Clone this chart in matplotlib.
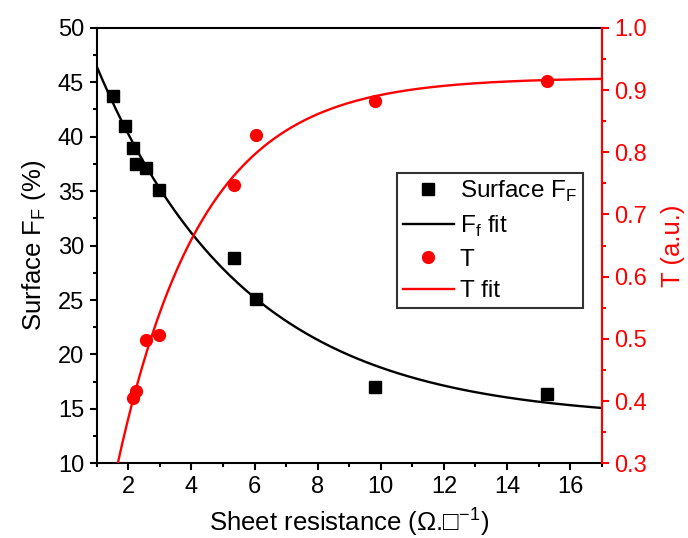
import numpy as np
import matplotlib
matplotlib.use("Agg")
import matplotlib.pyplot as plt
from matplotlib.ticker import MultipleLocator, FormatStrFormatter

plt.rcParams['font.family'] = ['Liberation Sans', 'DejaVu Sans']
plt.rcParams['mathtext.fontset'] = 'custom'
plt.rcParams['mathtext.rm'] = 'Liberation Sans'

# Data
rs_ff = [1.53, 1.90, 2.15, 2.25, 2.56, 2.96, 5.35, 6.05, 9.83, 15.26]
surface_ff = [43.7, 41.0, 39.0, 37.5, 37.1, 35.1, 28.9, 25.1, 17.0, 16.4]

rs_t = [2.14, 2.25, 2.56, 2.96, 5.35, 6.05, 9.83, 15.26]
trans = [0.405, 0.416, 0.498, 0.506, 0.748, 0.828, 0.883, 0.915]

# Exponential fit parameters (estimated from the plotted fit curves)
ff_y0, ff_a, ff_t = 14.0, 40.13, 4.708     # F = y0 + A*exp(-x/t)
t_y0, t_a, t_t = 0.92, 1.153, 2.687        # T = y0 - A*exp(-x/t)

fig = plt.figure(figsize=(6.88, 5.38), dpi=100)
ax = fig.add_axes([0.1406, 0.1388, 0.7340, 0.8095])
ax2 = ax.twinx()

xf = np.linspace(1, 17, 400)
l1, = ax.plot(rs_ff, surface_ff, 's', color='black', markersize=8, linestyle='none',
              label='Surface F$_\\mathregular{F}$')
l2, = ax.plot(xf, ff_y0 + ff_a * np.exp(-xf / ff_t), '-', color='black', lw=1.7,
              label='F$_\\mathregular{f}$ fit')
l3, = ax2.plot(rs_t, trans, 'o', color='red', markersize=8.5, linestyle='none', label='T')
l4, = ax2.plot(xf, t_y0 - t_a * np.exp(-xf / t_t), '-', color='red', lw=1.7, label='T fit')

ax.set_xlim(1, 17)
ax.set_ylim(10, 50)
ax2.set_ylim(0.3, 1.0)

fs = 17
ax.xaxis.set_major_locator(MultipleLocator(2))
ax.xaxis.set_minor_locator(MultipleLocator(1))
ax.yaxis.set_major_locator(MultipleLocator(5))
ax.yaxis.set_minor_locator(MultipleLocator(2.5))
ax2.yaxis.set_major_locator(MultipleLocator(0.1))
ax2.yaxis.set_minor_locator(MultipleLocator(0.05))
ax2.yaxis.set_major_formatter(FormatStrFormatter('%.1f'))

for a in (ax, ax2):
    for s in a.spines.values():
        s.set_linewidth(1.5)
ax.tick_params(axis='both', which='major', direction='out', length=5, width=1.5,
               labelsize=fs, pad=4)
ax.tick_params(axis='both', which='minor', direction='out', length=3, width=1.5)
ax2.tick_params(axis='y', which='major', direction='out', length=5, width=1.5,
                labelsize=fs, colors='red', pad=4)
ax2.tick_params(axis='y', which='minor', direction='out', length=3, width=1.5, colors='red')
ax2.spines['right'].set_color('red')
ax2.spines['left'].set_visible(False)
ax2.spines['top'].set_visible(False)
ax2.spines['bottom'].set_visible(False)

ax.set_xlabel('Sheet resistance (\u03A9.\u25A1$^{\\mathregular{-1}}$)', fontsize=18.5, labelpad=5)
ax.set_ylabel('Surface F$_\\mathregular{F}$ (%)', fontsize=18.5, labelpad=7)
ax2.set_ylabel('T (a.u.)', fontsize=18.5, color='red', labelpad=10)

leg = ax.legend(handles=[l1, l2, l3, l4], loc='upper left',
                fontsize=17.5, frameon=True, fancybox=False, handlelength=2.1,
                labelspacing=0.4, borderpad=0.25, handletextpad=0.25, borderaxespad=0)
leg.get_frame().set_edgecolor('black')
leg.get_frame().set_linewidth(1.5)
leg.set_bbox_to_anchor((396.7 / 688, 1 - 172.7 / 538), transform=fig.transFigure)

fig.savefig('out.png', dpi=100)
